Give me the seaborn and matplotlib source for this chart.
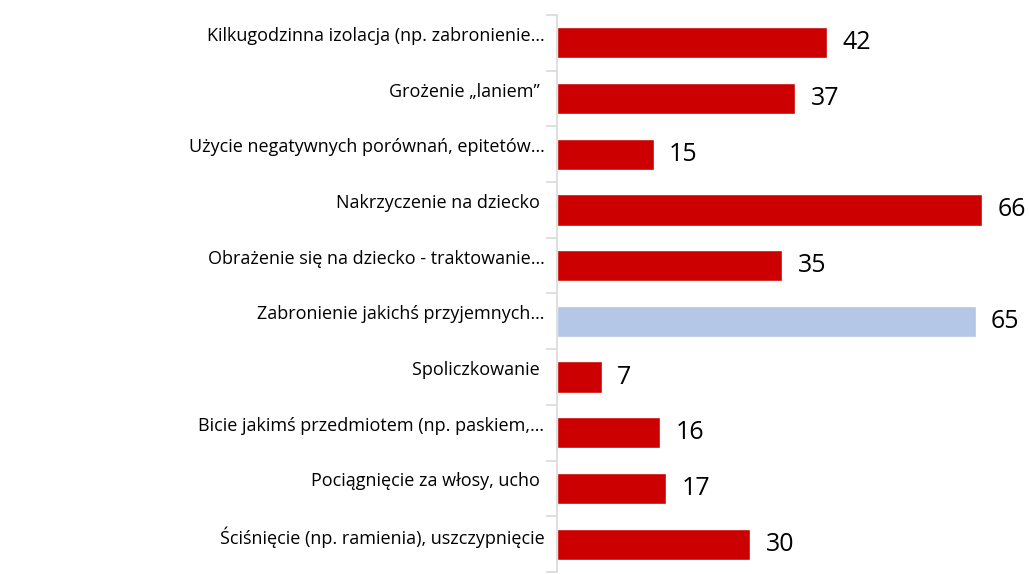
import matplotlib
matplotlib.use("Agg")
import matplotlib.pyplot as plt
import matplotlib.transforms as mtransforms
import seaborn as sns
import pandas as pd

# ============================================================
# DATA
# ============================================================
categories = [
    "Kilkugodzinna izolacja (np. zabronienie…",
    "Grożenie „laniem” ",
    "Użycie negatywnych porównań, epitetów…",
    "Nakrzyczenie na dziecko ",
    "Obrażenie się na dziecko - traktowanie…",
    "Zabronienie jakichś przyjemnych…",
    "Spoliczkowanie ",
    "Bicie jakimś przedmiotem (np. paskiem,…",
    "Pociągnięcie za włosy, ucho ",
    "Ściśnięcie (np. ramienia), uszczypnięcie",
]
values = [42, 37, 15, 66, 35, 65, 7, 16, 17, 30]
bar_colors = ["#CC0000", "#CC0000", "#CC0000", "#CC0000", "#CC0000",
              "#B4C7E7", "#CC0000", "#CC0000", "#CC0000", "#CC0000"]

df = pd.DataFrame({"kategoria": categories, "wartosc": values})

# ============================================================
# PLOT
# ============================================================
sns.set_style("white")
plt.rcParams["font.family"] = ["Open Sans", "DejaVu Sans"]

fig = plt.figure(figsize=(10.29, 5.74), dpi=100)
ax = fig.add_axes([557 / 1029, 2 / 574, 472 / 1029, 557 / 574])

sns.barplot(data=df, x="wartosc", y="kategoria", hue="kategoria",
            palette=bar_colors, legend=False, width=0.56, ax=ax,
            saturation=1)

ax.set_xlim(0, 73.3)
ax.set_ylim(len(categories) - 0.5, -0.5)
ax.set_xlabel("")
ax.set_ylabel("")
ax.set_xticks([])

for s in ["top", "right", "bottom"]:
    ax.spines[s].set_visible(False)
ax.spines["left"].set_color("#D9D9D9")
ax.spines["left"].set_linewidth(1.2)

# category boundary ticks (Excel style)
ax.set_yticks([i - 0.5 for i in range(len(categories) + 1)], minor=True)
ax.tick_params(axis="y", which="minor", left=True, length=8, color="#D9D9D9",
               width=1.2, direction="out")
ax.tick_params(axis="y", which="major", left=False, length=0, pad=9,
               labelsize=13, labelcolor="#000000")

# labels sit a bit above bar centre
offset = mtransforms.ScaledTranslation(0, 9 / 100, fig.dpi_scale_trans)
for lbl in ax.get_yticklabels():
    lbl.set_transform(lbl.get_transform() + offset)

for cont in ax.containers:
    ax.bar_label(cont, fmt="%d", padding=11, fontsize=18, color="#000000")

fig.savefig("out.png", dpi=100)
